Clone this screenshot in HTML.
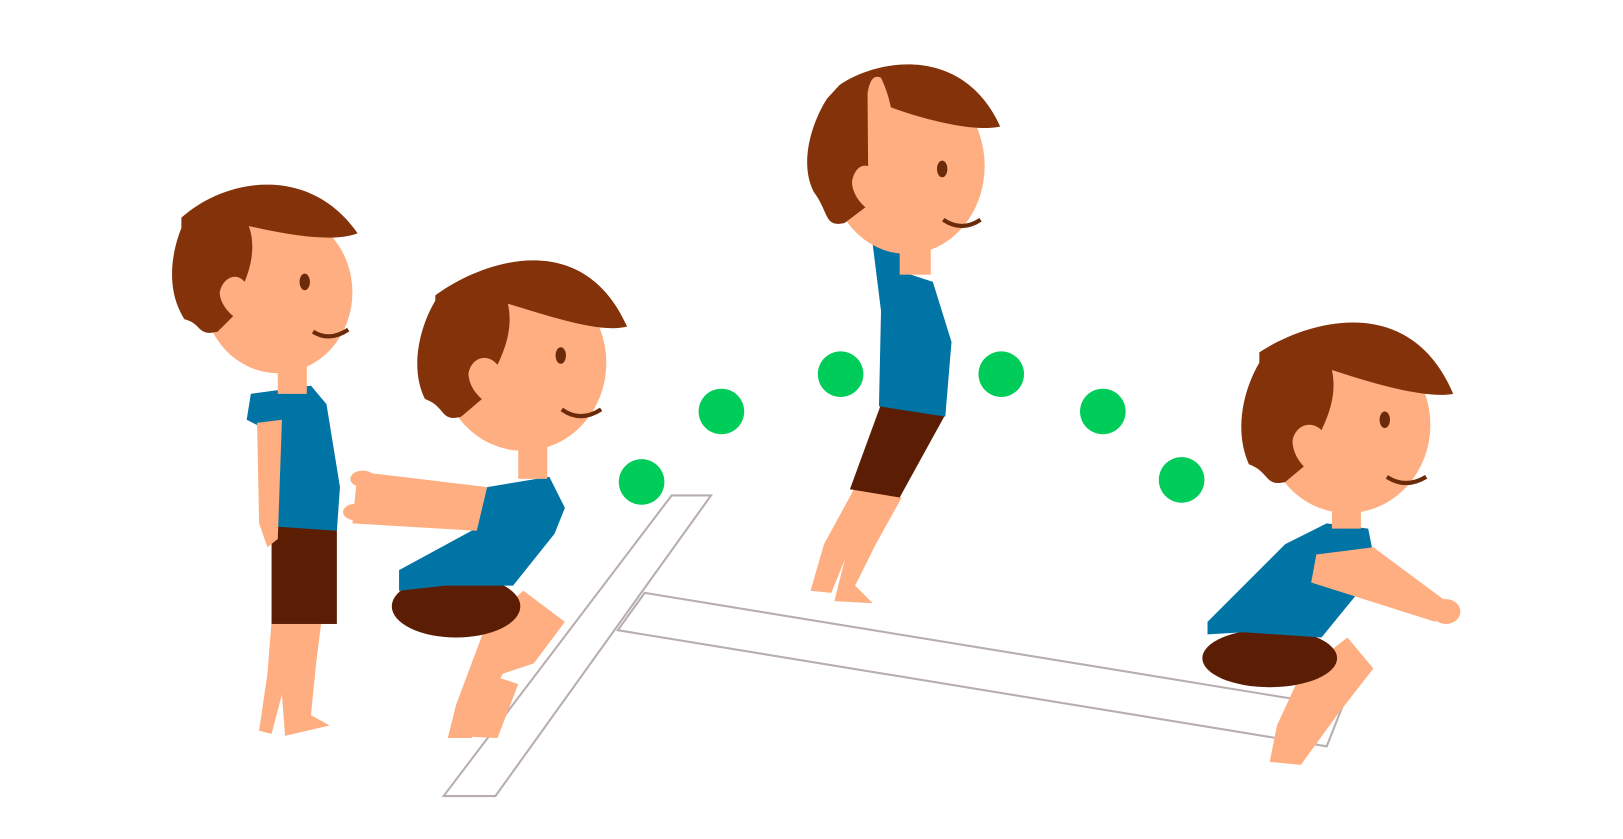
<!DOCTYPE html>
<html><head><meta charset="utf-8"><title>Jump illustration</title>
<style>html,body{margin:0;padding:0;background:#fff;width:1623px;height:839px;overflow:hidden}</style>
</head><body>
<svg width="1623" height="839" viewBox="0 0 1623 839" xmlns="http://www.w3.org/2000/svg">
<defs>
<style>.sk{fill:#FEAE80}.hr{fill:#843209}.sh{fill:#0074A4}.sd{fill:#5B1E04}.gd{fill:#00CC5A}.ey{fill:#6B2A0A}</style>
</defs>
<g transform="scale(1.0365)">
<g>
<polygon points="428,768 478,768 686,478 648,478" fill="#fff" stroke="#b8aeb0" stroke-width="2"/>
</g>
<g>
<polygon points="622,572 596,608 1280,720 1295,682" fill="#fff" stroke="#b8aeb0" stroke-width="2"/>
</g>
<g>
<circle class="gd" cx="619" cy="465" r="22"/><circle class="gd" cx="696" cy="397" r="22"/>
<circle class="gd" cx="811" cy="361" r="22"/><circle class="gd" cx="966" cy="361" r="22"/>
<circle class="gd" cx="1064" cy="397" r="22"/><circle class="gd" cx="1140" cy="463" r="22"/>
</g>
<g>
<path class="sk" d="M262,600 L258,650 L250,705 L262,708 L272,670 L275,710 L318,700 L300,690 L305,640 L310,600 Z"/>
<rect class="sd" x="262" y="505" width="63" height="97"/>
<path class="sh" d="M242,380 L300,372 L315,390 L328,470 L325,512 L265,508 L248,410 L238,405 Z"/>
<path class="sk" d="M248,408 L272,405 L268,520 L258,528 L250,505 Z"/>
<rect class="sk" x="268" y="340" width="28" height="40"/>
<ellipse class="sk" cx="268" cy="282" rx="72" ry="78"/>
<path class="hr" d="M175,210 C220,170 300,160 345,225 C320,235 270,225 240,218 C248,240 240,262 236,272 C228,262 215,268 212,282 C212,295 225,305 225,305 L210,320 C190,325 195,312 178,308 C160,280 165,245 175,220 Z"/>
<ellipse class="ey" cx="294" cy="272" rx="5" ry="8"/>
<path d="M302,320 Q318,330 336,318" stroke="#6B2A0A" stroke-width="4" fill="none"/>
</g>
<g>
<path class="sk" d="M470,600 L440,680 L432,712 L455,712 L485,650 L515,640 L545,600 L505,570 Z"/>
<path class="sk" d="M470,650 L435,710 L480,712 L500,660 Z"/>
<ellipse class="sd" cx="440" cy="585" rx="62" ry="30"/>
<path class="sh" d="M385,550 L455,512 L470,470 L530,460 L545,490 L535,515 L495,565 L430,565 L385,570 Z"/>
<path class="sk" d="M345,455 L470,470 L460,512 L340,505 Z"/>
<ellipse class="sk" cx="350" cy="462" rx="12" ry="8"/><ellipse class="sk" cx="343" cy="494" rx="12" ry="8"/>
<rect class="sk" x="500" y="420" width="28" height="42"/>
<ellipse class="sk" cx="505" cy="350" rx="80" ry="85"/>
<path class="hr" d="M420,285 C460,255 560,215 605,315 C580,322 530,305 490,293 C495,315 488,335 480,352 C470,340 455,345 452,360 C452,375 465,385 465,385 L445,402 C425,408 430,392 410,385 C395,355 405,315 420,290 Z"/>
<ellipse class="ey" cx="541" cy="343" rx="5" ry="8"/>
<path d="M542,395 Q560,408 580,395" stroke="#6B2A0A" stroke-width="4" fill="none"/>
</g>
<g>
<path class="sk" d="M825,470 L795,525 L782,570 L802,572 L815,540 L805,580 L842,582 L825,565 L845,525 L870,480 Z"/>
<path class="sd" d="M850,390 L912,400 L868,480 L820,472 Z"/>
<path class="sh" d="M840,220 L870,218 L870,262 L900,272 L918,330 L912,402 L848,392 L850,300 Z"/>
<rect class="sk" x="868" y="220" width="30" height="45"/>
<ellipse class="sk" cx="875" cy="160" rx="75" ry="85"/>
<path class="hr" d="M810,82 C850,55 930,45 965,122 C940,128 890,115 858,103 C862,125 855,150 845,165 C835,155 825,160 822,175 C822,190 835,200 835,200 L815,215 C795,220 800,205 785,185 C770,155 785,115 798,95 Z"/>
<path class="sk" d="M837,90 Q840,70 850,75 Q862,100 862,130 L866,220 L838,222 Z"/>
<ellipse class="ey" cx="909" cy="163" rx="5" ry="8"/>
<path d="M910,212 Q928,224 946,212" stroke="#6B2A0A" stroke-width="4" fill="none"/>
</g>
<g>
<path class="sk" d="M1255,650 L1232,700 L1225,735 L1255,738 L1290,690 L1325,645 L1300,615 Z"/>
<ellipse class="sd" cx="1225" cy="635" rx="65" ry="28"/>
<path class="sh" d="M1165,600 L1240,525 L1280,505 L1320,510 L1328,550 L1275,615 L1200,610 L1165,612 Z"/>
<path class="sk" d="M1270,535 L1325,528 L1395,580 L1385,600 L1265,562 Z"/>
<ellipse class="sk" cx="1395" cy="590" rx="14" ry="12"/>
<rect class="sk" x="1285" y="470" width="28" height="40"/>
<ellipse class="sk" cx="1300" cy="410" rx="80" ry="85"/>
<path class="hr" d="M1215,340 C1260,310 1360,280 1402,380 C1375,385 1325,370 1285,357 C1290,380 1282,400 1275,415 C1265,405 1250,410 1247,425 C1247,440 1258,450 1258,450 L1240,465 C1220,470 1225,455 1205,448 C1190,415 1200,375 1215,350 Z"/>
<ellipse class="ey" cx="1336" cy="405" rx="5" ry="8"/>
<path d="M1338,460 Q1356,472 1376,460" stroke="#6B2A0A" stroke-width="4" fill="none"/>
</g>
</g>
</svg>
</body></html>
